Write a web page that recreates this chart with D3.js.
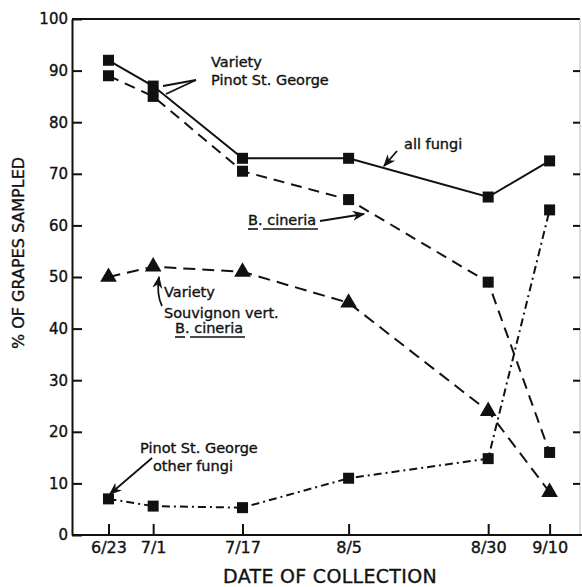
<!DOCTYPE html>
<html><head><meta charset="utf-8">
<script src="https://cdn.jsdelivr.net/npm/d3@7"></script>
<style>body{margin:0;background:#fff}svg{display:block}text{font-family:"DejaVu Sans",sans-serif;fill:#111;stroke:#111;stroke-width:0.35px}</style>
</head><body><svg id="c" width="582" height="587"></svg>
<script>
const dates = ["1979-06-23","1979-07-01","1979-07-17","1979-08-05","1979-08-30","1979-09-10"];
const dateLabels = ["6/23","7/1","7/17","8/5","8/30","9/10"];
const yTicks = [0,10,20,30,40,50,60,70,80,90,100];
const pinotAllFungi = [92,87,73,73,65.5,72.5];
const pinotBcineria = [89,85,70.5,65,49,16];
const sauvBcineria = [50,52,51,45,24,8.3];
const pinotOtherFungi = [7,5.6,5.3,11,14.8,63];

const svg = d3.select("#c");
const parse = d3.timeParse("%Y-%m-%d");
const D = dates.map(parse);
const x = d3.scaleTime().domain([D[0], D[5]]).range([108.5, 549.6]);
const y = d3.scaleLinear().domain([0,100]).range([535,19]);
const X0 = 72, X1 = 580;

const ink = "#111";
// frame
svg.append("line").attr("x1",X0).attr("x2",X1).attr("y1",y(100)).attr("y2",y(100)).attr("stroke",ink).attr("stroke-width",1.8);
svg.append("line").attr("x1",X1).attr("x2",X1).attr("y1",y(100)).attr("y2",y(0)).attr("stroke","#bbb").attr("stroke-width",1);

// left axis, ticks inward
const yl = svg.append("g").attr("transform",`translate(${X0},0)`)
  .call(d3.axisLeft(y).tickValues(yTicks).tickSizeInner(-10).tickSizeOuter(0).tickPadding(4));
yl.select(".domain").attr("stroke",ink).attr("stroke-width",2);
yl.selectAll(".tick line").attr("stroke",ink).attr("stroke-width",2);
yl.selectAll(".tick text").attr("font-size",15).attr("fill",ink).style("font-family","DejaVu Sans");
// right axis ticks
const yr = svg.append("g").attr("transform",`translate(${X1},0)`)
  .call(d3.axisRight(y).tickValues(yTicks.filter(v=>v>0&&v<100)).tickSizeInner(-7).tickSizeOuter(0).tickFormat(""));
yr.select(".domain").remove();
yr.selectAll(".tick line").attr("stroke",ink).attr("stroke-width",2);

// bottom axis
const xa = svg.append("g").attr("transform",`translate(0,${y(0)})`)
  .call(d3.axisBottom(x).tickValues(D).tickFormat((d,i)=>dateLabels[i]).tickSizeInner(-11).tickSizeOuter(0).tickPadding(7));
xa.select(".domain").remove();
svg.append("line").attr("x1",X0).attr("x2",582).attr("y1",y(0)).attr("y2",y(0)).attr("stroke",ink).attr("stroke-width",2);
xa.selectAll(".tick line").attr("stroke",ink).attr("stroke-width",2);
xa.selectAll(".tick text").attr("font-size",16).attr("fill",ink).style("font-family","DejaVu Sans");

// axis titles
svg.append("text").attr("transform",`translate(24,253) rotate(-90)`).attr("text-anchor","middle")
  .attr("font-size",16).text("% OF GRAPES SAMPLED");
svg.append("text").attr("x",330).attr("y",583).attr("text-anchor","middle").attr("font-size",19).attr("letter-spacing",0.3).text("DATE OF COLLECTION");

const line = d3.line().x((d,i)=>x(D[i])).y(d=>y(d));
function series(vals, dash, marker){
  svg.append("path").attr("d",line(vals)).attr("fill","none").attr("stroke",ink).attr("stroke-width",2)
    .attr("stroke-dasharray",dash);
  const g = svg.append("g");
  vals.forEach((v,i)=>{
    if(marker==="sq"){
      g.append("rect").attr("x",x(D[i])-5.5).attr("y",y(v)-5.5).attr("width",11).attr("height",11).attr("fill",ink);
    } else {
      g.append("path").attr("d",d3.symbol(d3.symbolTriangle,120)()).attr("transform",`translate(${x(D[i])},${y(v)})`).attr("fill",ink);
    }
  });
}
series(pinotAllFungi,null,"sq");
series(pinotBcineria,"11,7","sq");
series(sauvBcineria,"12,7","tri");
series(pinotOtherFungi,"8,4,2,4","sq");

// annotations
function t(xp,yp,s,size){return svg.append("text").attr("x",xp).attr("y",yp).attr("font-size",size||14.5).text(s);}
const defs = svg.append("defs");
defs.append("marker").attr("id","ah").attr("viewBox","0 0 10 10").attr("refX",9).attr("refY",5)
  .attr("markerWidth",7).attr("markerHeight",7).attr("orient","auto")
  .append("path").attr("d","M0,1 L10,5 L0,9 L3,5 Z").attr("fill",ink);
function arrow(pts){
  svg.append("path").attr("d",d3.line()(pts)).attr("fill","none").attr("stroke",ink).attr("stroke-width",1.8).attr("marker-end","url(#ah)");
}
function seg(pts){
  svg.append("path").attr("d",d3.line()(pts)).attr("fill","none").attr("stroke",ink).attr("stroke-width",1.8);
}
function ul(x1,x2,yy){svg.append("line").attr("x1",x1).attr("x2",x2).attr("y1",yy).attr("y2",yy).attr("stroke",ink).attr("stroke-width",1.6);}

t(211,67,"Variety"); t(211,85,"Pinot St. George");
seg([[196,80],[163,86]]); seg([[196,80],[166,94]]);

t(404,149,"all fungi");
arrow([[397,151],[384,166]]);

t(248,225,"B. cineria");
ul(248,258,229); ul(263,318,229);
arrow([[320,221],[364,214]]);

t(164,297,"Variety"); t(164,318,"Souvignon vert."); t(175,333,"B. cineria");
ul(175,185,337); ul(190,245,337);
svg.append("path").attr("d","M162,306 C158,298 157,290 159,277").attr("fill","none").attr("stroke",ink).attr("stroke-width",1.8).attr("marker-end","url(#ah)");

t(140,453,"Pinot St. George"); t(153,471,"other fungi");
arrow([[152,458],[110,494]]);
</script></body></html>
